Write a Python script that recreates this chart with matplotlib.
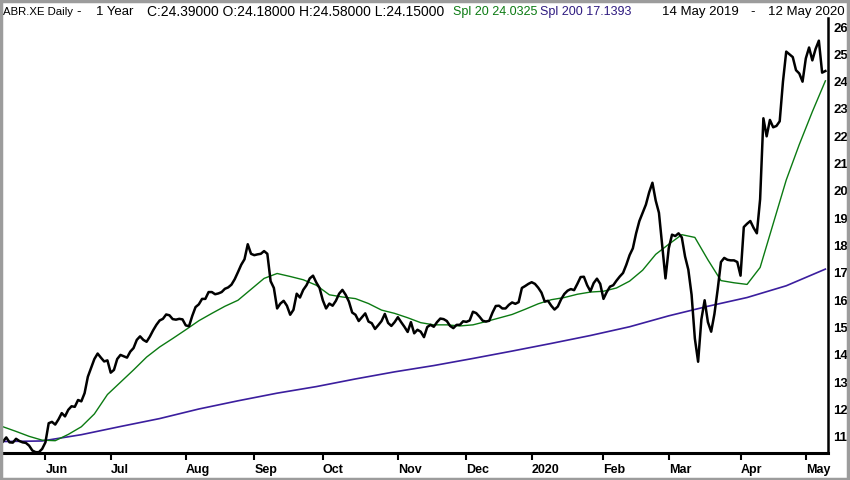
import numpy as np
import pandas as pd
import matplotlib
matplotlib.use('Agg')
import matplotlib.pyplot as plt
from matplotlib.patches import Rectangle

plt.rcParams['font.family'] = ['Liberation Sans', 'DejaVu Sans']

# trading calendar (UK holidays removed)
start, end = '2019-05-14', '2020-05-12'
holidays = ['2019-05-27', '2019-08-26', '2019-12-25', '2019-12-26',
            '2020-01-01', '2020-04-10', '2020-04-13', '2020-05-08']

# daily close, one value per trading day
close = [
    10.83, 10.98, 10.80, 10.79, 10.93, 10.85, 10.80, 10.78, 10.68, 10.50,
    10.44, 10.44, 10.56, 10.80, 11.50, 11.55, 11.45, 11.64, 11.87, 11.75,
    11.99, 12.12, 12.10, 12.35, 12.30, 12.60, 13.20, 13.52, 13.85, 14.05,
    13.90, 13.76, 13.80, 13.35, 13.45, 13.85, 14.00, 13.95, 13.90, 14.12,
    14.25, 14.55, 14.68, 14.55, 14.48, 14.67, 14.90, 15.10, 15.26, 15.32,
    15.48, 15.45, 15.31, 15.29, 15.32, 15.30, 15.08, 15.05, 15.43, 15.75,
    15.85, 16.05, 16.05, 16.30, 16.30, 16.22, 16.25, 16.30, 16.42, 16.47,
    16.57, 16.77, 17.03, 17.30, 17.50, 18.05, 17.70, 17.65, 17.68, 17.70,
    17.80, 17.70, 16.70, 16.45, 15.70, 15.88, 15.98, 15.80, 15.47, 15.65,
    16.24, 16.10, 16.38, 16.55, 16.80, 16.90, 16.65, 16.45, 16.00, 15.70,
    15.88, 15.80, 15.98, 16.24, 16.38, 16.20, 15.95, 15.55, 15.47, 15.24,
    15.38, 15.52, 15.22, 15.16, 14.95, 15.09, 15.24, 15.50, 15.17, 15.06,
    15.20, 15.38, 15.20, 15.03, 14.84, 15.20, 14.79, 14.92, 14.85, 14.65,
    15.02, 15.10, 15.03, 15.20, 15.33, 15.31, 15.24, 15.06, 14.98, 15.10,
    15.10, 15.23, 15.21, 15.26, 15.58, 15.53, 15.40, 15.25, 15.22, 15.25,
    15.55, 15.79, 15.80, 15.70, 15.70, 15.83, 15.92, 15.87, 15.93, 16.45,
    16.52, 16.60, 16.66, 16.60, 16.46, 16.28, 15.95, 15.98, 15.80, 15.66,
    15.77, 16.03, 16.23, 16.35, 16.41, 16.37, 16.60, 16.85, 16.86, 16.55,
    16.33, 16.63, 16.79, 16.60, 16.05, 16.30, 16.50, 16.55, 16.72, 16.87,
    17.00, 17.30, 17.65, 17.90, 18.45, 18.90, 19.20, 19.50, 19.95, 20.30,
    19.65, 19.20, 18.00, 16.80, 17.90, 18.40, 18.35, 18.45, 18.30, 17.60,
    17.12, 16.20, 14.60, 13.75, 15.30, 16.00, 15.20, 14.85, 15.50, 16.40,
    17.40, 17.55, 17.48, 17.46, 17.46, 17.40, 16.90, 18.68, 18.80, 18.90,
    18.65, 18.45, 19.70, 22.66, 22.00, 22.60, 22.33, 22.38, 22.55, 24.00,
    25.10, 25.00, 24.90, 24.42, 24.30, 24.00, 24.85, 25.25, 24.78, 25.20,
    25.50, 24.33, 24.39,
]

# 20 day simple average, every 4th trading day
ma20 = [
    11.37, 11.20, 11.02, 10.88, 10.86, 11.09, 11.37, 11.84, 12.55, 13.00,
    13.45, 13.92, 14.29, 14.60, 14.92, 15.25, 15.52, 15.78, 16.00, 16.40,
    16.80, 16.98, 16.87, 16.75, 16.55, 16.20, 16.12, 16.06, 15.88, 15.64,
    15.52, 15.36, 15.18, 15.10, 15.10, 15.06, 15.10, 15.22, 15.35, 15.48,
    15.67, 15.87, 16.02, 16.10, 16.22, 16.30, 16.33, 16.45, 16.70, 17.10,
    17.68, 18.05, 18.40, 18.30, 17.48, 16.72, 16.64, 16.58, 17.20, 18.80,
    20.40, 21.70, 22.90, 24.03,
]

# 200 day simple average, every 12th trading day
ma200 = [
    10.83, 10.85, 11.08, 11.38, 11.67, 12.02, 12.32, 12.60, 12.84, 13.12,
    13.38, 13.61, 13.87, 14.14, 14.42, 14.71, 15.03, 15.43, 15.78, 16.10,
    16.53, 17.14,
]

dates = pd.bdate_range(start, end)
dates = dates[~dates.isin(pd.to_datetime(holidays))]
x = np.arange(len(dates))

fig = plt.figure(figsize=(8.5, 4.8), dpi=100)
ax = fig.add_axes([3 / 850, 27 / 480, 825 / 850, 435 / 480])

ax.plot(x[::12], ma200, color='#3b1e9e', lw=1.2)
ax.plot(x[::4], ma20, color='#0b7a12', lw=1.0)
ax.plot(x, close, color='black', lw=1.8)

ax.set_xlim(0, 252.8)
ax.set_ylim(10.41, 26.33)

# month ticks at first trading day of each month
firsts = [i for i in range(1, len(dates)) if dates[i].month != dates[i - 1].month]
labels = ['2020' if dates[i].month == 1 else dates[i].strftime('%b') for i in firsts]
ax.set_xticks(firsts)
ax.set_xticklabels(labels, ha='left', fontsize=9, fontweight='bold')
ax.tick_params(axis='x', direction='out', length=5, width=1.5, pad=3)

ax.yaxis.tick_right()
ax.set_yticks(range(11, 27))
ax.tick_params(axis='y', length=0, pad=4, labelsize=9.5)
for t in ax.get_yticklabels():
    t.set_fontweight('bold')

ax.spines['top'].set_visible(False)
ax.spines['left'].set_visible(False)
ax.spines['bottom'].set_linewidth(2.2)
ax.spines['right'].set_linewidth(1.8)

# header line
hy = 1 - 12 / 480
fig.text(3 / 850, hy, 'ABR.XE Daily', fontsize=8.2, va='center')
fig.text(76 / 850, hy, '-', fontsize=9.5, va='center')
fig.text(96 / 850, hy, '1 Year', fontsize=9.5, va='center')
fig.text(147 / 850, hy, 'C:24.39000 O:24.18000 H:24.58000 L:24.15000',
         fontsize=10, va='center')
fig.text(453 / 850, hy, 'Spl 20 24.0325', fontsize=9, va='center', color='#0b7a12')
fig.text(540 / 850, hy, 'Spl 200 17.1393', fontsize=9, va='center', color='#2e1a80')
fig.text(662 / 850, hy, '14 May 2019', fontsize=9.5, va='center')
fig.text(750 / 850, hy, '-', fontsize=9.5, va='center')
fig.text(768 / 850, hy, '12 May 2020', fontsize=9.5, va='center')

# grey frame round the picture
fig.patches.append(Rectangle((0.001, 0.002), 0.997, 0.995, transform=fig.transFigure,
                             fill=False, edgecolor='#9c9c9c', lw=2.5))

fig.savefig('out.png', dpi=100)
